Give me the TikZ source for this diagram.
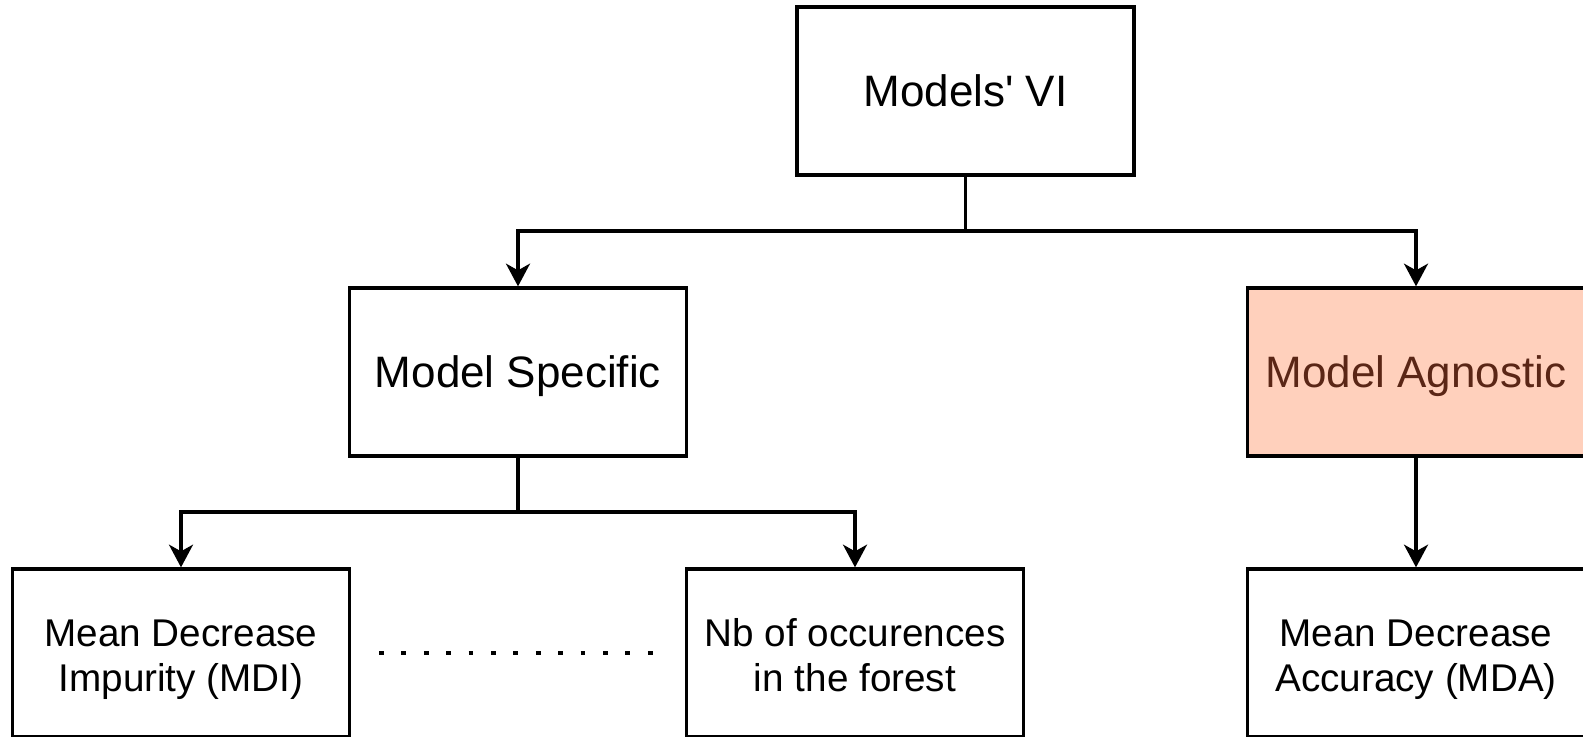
\documentclass[tikz,border=0pt]{standalone}
\usepackage{fontspec}
\setmainfont{Liberation Sans}
\usetikzlibrary{arrows.meta}
\definecolor{agnfill}{HTML}{FFD0BC}
\definecolor{agntext}{HTML}{5A2616}
\tikzset{
  box/.style={draw=black, line width=2.5pt, fill=white, minimum width=252.75pt,
    minimum height=126pt, inner sep=0pt, align=center},
  bigtext/.style={font=\fontsize{33}{38}\selectfont, text height=23.6pt, text depth=0pt},
  smalltext/.style={font=\fontsize{29}{33.5}\selectfont, align=center, inner sep=0pt},
  link/.style={line width=2.5pt, draw=black},
  arr/.style={link, -{Stealth[length=17pt, width=18pt, inset=5pt]}},
}
\begin{document}
\begin{tikzpicture}[x=0.75pt, y=-0.75pt]
  \useasboundingbox (0,0) rectangle (1583,736);
  \clip (0,0) rectangle (1583,736);

  % top level
  \node[box, bigtext] (vi) at (965.5,91) {Models\textquotesingle{} VI};

  % second level
  \node[box, bigtext] (spec) at (518,372) {Model Specific};
  \node[box, bigtext, fill=agnfill, text=agntext] (agn) at (1416,372) {Model Agnostic};

  % third level: frames, then their two-line captions
  \node[box] (mdi) at (181,653) {};
  \node[box] (nb) at (855,653) {};
  \node[box] (mda) at (1416,653) {};
  \node[smalltext] (mdiT) at ([yshift=-5.5pt]mdi.center) {\strut Mean Decrease\\\strut Impurity (MDI)};
  \node[smalltext] (nbT) at ([yshift=-5.5pt]nb.center) {\strut Nb of occurences\\\strut in the forest};
  \node[smalltext] (mdaT) at ([yshift=-5.5pt]mda.center) {\strut Mean Decrease\\\strut Accuracy (MDA)};

  % branch points
  \coordinate (vjoin) at (965.5,231);
  \coordinate (sjoin) at (518,512);

  \draw[link] (vi.south) -- (vjoin);
  \draw[arr] (vjoin) -| (spec.north);
  \draw[arr] (vjoin) -| (agn.north);

  \draw[link] (spec.south) -- (sjoin);
  \draw[arr] (sjoin) -| (mdi.north);
  \draw[arr] (sjoin) -| (nb.north);

  \draw[arr] (agn.south) -- (mda.north);

  % ellipsis between the specific measures
  \coordinate (dotsA) at (379,653);
  \coordinate (dotsB) at (655,653);
  \draw[line width=3.6pt, dash pattern=on 3.6pt off 13.2pt] (dotsA) -- (dotsB);
\end{tikzpicture}
\end{document}
